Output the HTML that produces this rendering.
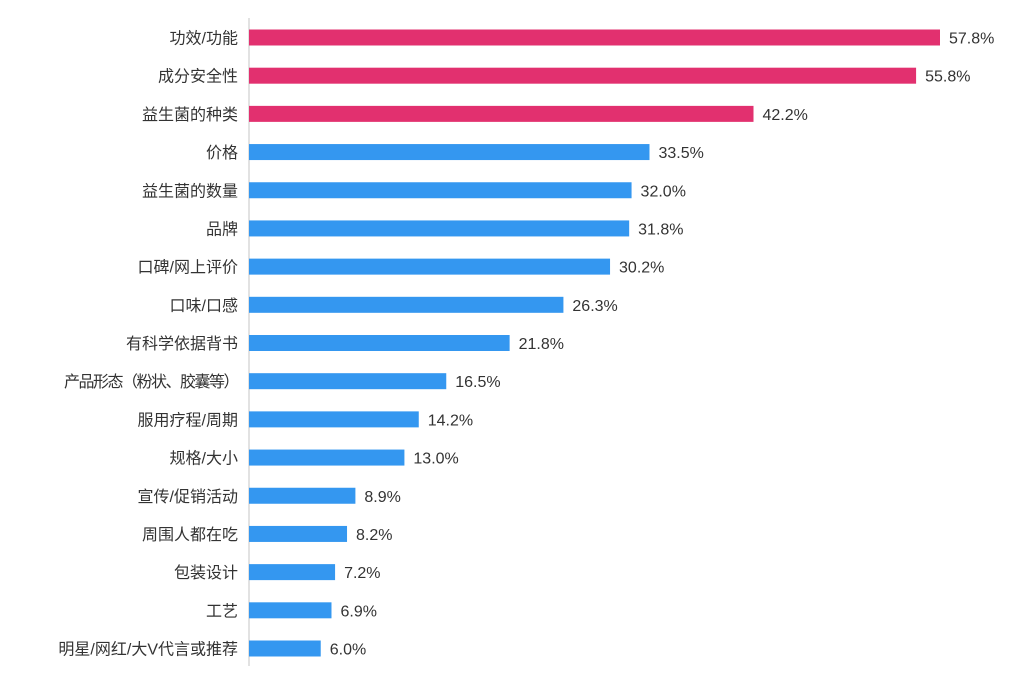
<!DOCTYPE html>
<html><head><meta charset="utf-8"><style>
body{margin:0;background:#fff;}
svg{display:block;font-family:"Liberation Sans","Noto Sans CJK SC",sans-serif;}
</style></head><body>
<svg id="chart" width="1024" height="686" viewBox="0 0 1024 686" xmlns="http://www.w3.org/2000/svg">
<line x1="249" y1="18" x2="249" y2="666" stroke="#d9d9d9" stroke-width="1.5"/>
<g id="bars"></g>
</svg>
<script>
const categories = ["功效/功能","成分安全性","益生菌的种类","价格","益生菌的数量","品牌","口碑/网上评价","口味/口感","有科学依据背书","产品形态（粉状、胶囊等）","服用疗程/周期","规格/大小","宣传/促销活动","周围人都在吃","包装设计","工艺","明星/网红/大V代言或推荐"];
const values = [57.8,55.8,42.2,33.5,32.0,31.8,30.2,26.3,21.8,16.5,14.2,13.0,8.9,8.2,7.2,6.9,6.0];
const highlighted = [true,true,true,false,false,false,false,false,false,false,false,false,false,false,false,false,false];
const x0 = 249, pxPerUnit = 691/57.8;
const y0 = 37.5, step = (648.5-37.5)/16, barH = 16;
const xScale = v => x0 + v*pxPerUnit;
const yScale = i => y0 + i*step;
const g = document.getElementById('bars');
const NS = "http://www.w3.org/2000/svg";
categories.forEach((c,i)=>{
  const y = yScale(i);
  const r = document.createElementNS(NS,'rect');
  r.setAttribute('x',x0); r.setAttribute('y',y-barH/2);
  r.setAttribute('width',xScale(values[i])-x0); r.setAttribute('height',barH);
  r.setAttribute('fill',highlighted[i]?'#e2306f':'#3497f0');
  
  
  g.appendChild(r);
  const lab = document.createElementNS(NS,'text');
  lab.setAttribute('x',238); lab.setAttribute('y',y+6);
  lab.setAttribute('text-anchor','end'); lab.setAttribute('font-size','16'); lab.setAttribute('fill','#333');
  if (c.indexOf('（')>=0) lab.setAttribute('letter-spacing','-1.5');
  lab.textContent = c;
  
  
  g.appendChild(lab);
  const vl = document.createElementNS(NS,'text');
  vl.setAttribute('x',xScale(values[i])+9); vl.setAttribute('y',y+6);
  vl.setAttribute('font-size','16'); vl.setAttribute('fill','#333');
  vl.textContent = values[i].toFixed(1)+'%';
  
  
  g.appendChild(vl);
});
</script>
</body></html>
